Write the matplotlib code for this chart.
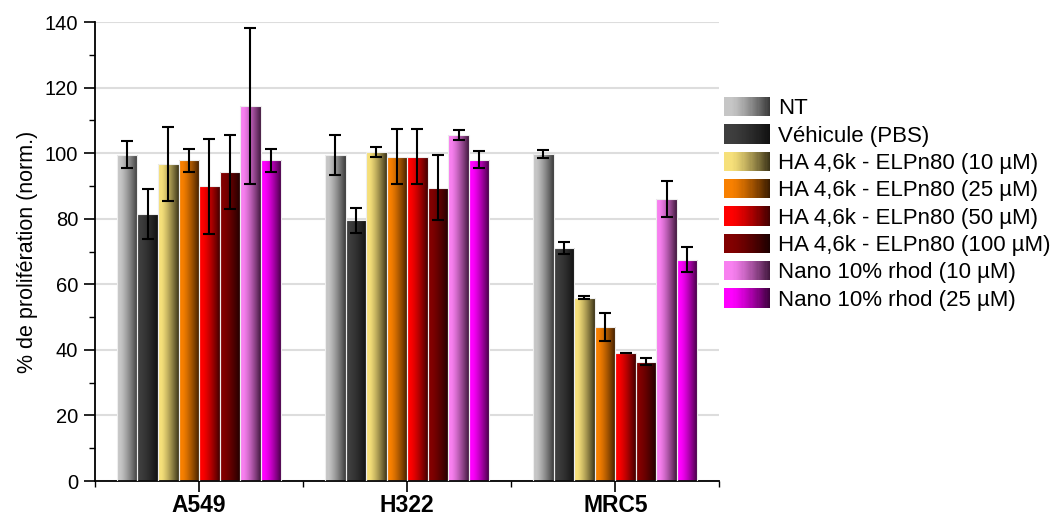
import numpy as np
import matplotlib
matplotlib.use("Agg")
import matplotlib.pyplot as plt
from matplotlib.colors import to_rgb
from matplotlib.patches import Rectangle
from matplotlib.legend_handler import HandlerBase
from matplotlib.ticker import MultipleLocator, FixedLocator

plt.rcParams['font.family'] = ['Liberation Sans', 'DejaVu Sans']

groups = ["A549", "H322", "MRC5"]
series = ["NT", "Véhicule (PBS)", "HA 4,6k - ELPn80 (10 µM)", "HA 4,6k - ELPn80 (25 µM)",
          "HA 4,6k - ELPn80 (50 µM)", "HA 4,6k - ELPn80 (100 µM)",
          "Nano 10% rhod (10 µM)", "Nano 10% rhod (25 µM)"]

nt       = [99.6, 99.5, 99.7]
vehicule = [81.4, 79.5, 71.0]
ha10     = [96.7, 100.5, 55.9]
ha25     = [97.8, 99.0, 47.0]
ha50     = [90.0, 99.0, 39.2]
ha100    = [94.4, 89.5, 36.4]
nano10   = [114.5, 105.5, 86.0]
nano25   = [97.8, 98.0, 67.5]

nt_err       = [4.2, 6.2, 1.3]
vehicule_err = [7.6, 3.8, 1.8]
ha10_err     = [11.3, 1.5, 0.5]
ha25_err     = [3.5, 8.5, 4.3]
ha50_err     = [14.5, 8.5, 0.0]
ha100_err    = [11.3, 10.0, 1.1]
nano10_err   = [23.8, 1.5, 5.4]
nano25_err   = [3.5, 2.6, 3.8]

values = [nt, vehicule, ha10, ha25, ha50, ha100, nano10, nano25]
errors = [nt_err, vehicule_err, ha10_err, ha25_err, ha50_err, ha100_err, nano10_err, nano25_err]

light_colors = ["#c6c6c6", "#3e3e3e", "#f6e07a", "#f88000", "#ff0000", "#820000", "#f880f0", "#ff00ff"]
dark_colors  = ["#3a3a3a", "#111111", "#3c3418", "#3a1c00", "#420000", "#1c0000", "#42183e", "#3c003c"]

def gradient_rgb(c1, c2, n=64):
    a = np.array(to_rgb(c1)); b = np.array(to_rgb(c2))
    t = np.linspace(0, 1, n)
    w = np.clip((t - 0.15) / 0.85, 0, 1) ** 1.3
    return a[None, :] * (1 - w[:, None]) + b[None, :] * w[:, None]

fig = plt.figure(figsize=(10.51, 5.15), dpi=100)
ax = fig.add_axes([0.0904, 0.066, 0.594, 0.891])

x = np.arange(1, len(groups) + 1)
nser = len(series)
bw = 0.79 / nser

for i in range(nser):
    pos = x - 0.79 / 2 + bw * (i + 0.5)
    bars = ax.bar(pos, values[i], width=bw, facecolor="none", edgecolor="#eeeeee",
                  linewidth=0.8, zorder=3)
    grad = gradient_rgb(light_colors[i], dark_colors[i])[None, :, :]
    for b in bars:
        x0, w, h = b.get_x(), b.get_width(), b.get_height()
        im = ax.imshow(grad, extent=[x0, x0 + w, 0, h], aspect='auto',
                       interpolation='bilinear', zorder=2.5, origin='lower')
        im.set_clip_path(b)
    ax.errorbar(pos, values[i], yerr=errors[i], fmt='none', ecolor='black',
                elinewidth=1.5, capsize=4.5, capthick=1.5, zorder=4)

ax.set_xlim(0.5, 3.5)
ax.set_ylim(0, 140)
ax.yaxis.set_major_locator(MultipleLocator(20))
ax.yaxis.set_minor_locator(MultipleLocator(10))
ax.set_xticks(x)
ax.set_xticklabels(groups, fontsize=16.5, fontweight='bold')
ax.xaxis.set_minor_locator(FixedLocator([0.5, 1.5, 2.5, 3.5]))
ax.tick_params(axis='y', labelsize=14.5, length=8, width=1.2, direction='out', pad=4)
ax.tick_params(axis='y', which='minor', length=4, width=1.0)
ax.tick_params(axis='x', length=8, width=1.2, direction='out', pad=1)
ax.tick_params(axis='x', which='minor', length=4, width=1.0)
ax.set_ylabel("% de prolifération (norm.)", fontsize=15.5, labelpad=5)
ax.spines['top'].set_visible(False)
ax.spines['right'].set_visible(False)
ax.spines['left'].set_linewidth(1.3)
ax.spines['bottom'].set_linewidth(1.3)
ax.grid(axis='y', color='#dddddd', linewidth=1.5, zorder=0)
ax.set_axisbelow(True)

class GradHandler(HandlerBase):
    def __init__(self, c1, c2):
        super().__init__()
        self.c1, self.c2 = c1, c2
    def create_artists(self, legend, orig_handle, xdescent, ydescent, width, height, fontsize, trans):
        cols = gradient_rgb(self.c1, self.c2, 40)
        arts = []
        n = len(cols)
        for k, c in enumerate(cols):
            r = Rectangle((-xdescent + width * k / n, -ydescent), width / n * 1.05, height,
                          facecolor=c, edgecolor='none', transform=trans)
            arts.append(r)
        return arts

handles = [Rectangle((0, 0), 1, 1) for _ in series]
hmap = {h: GradHandler(light_colors[i], dark_colors[i]) for i, h in enumerate(handles)}
leg = fig.legend(handles, series, handler_map=hmap, loc='upper left',
                 bbox_to_anchor=(724 / 1051, 1 - 97 / 515), frameon=False, fontsize=16,
                 handlelength=2.07, handleheight=0.95, labelspacing=0.23, handletextpad=0.36,
                 borderpad=0, borderaxespad=0)

fig.savefig("out.png", dpi=100)
